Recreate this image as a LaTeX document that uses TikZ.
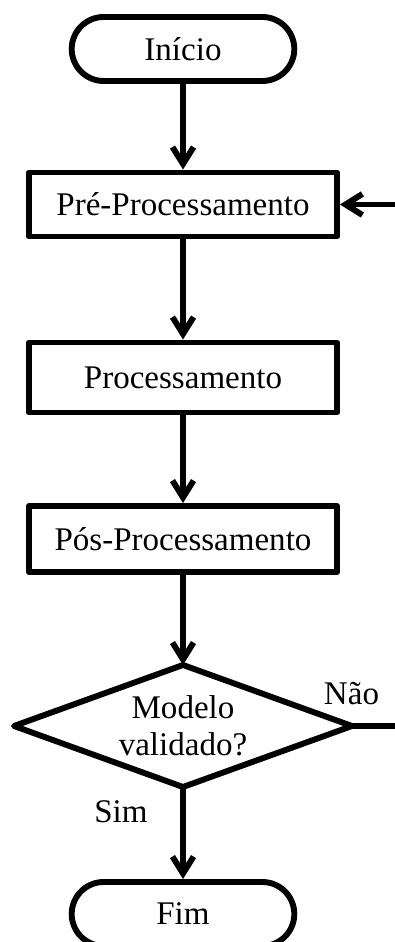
\documentclass[tikz,border=0pt]{standalone}
\usepackage{fontspec}
\setmainfont{Liberation Serif}
\usetikzlibrary{arrows.meta,shapes.geometric,shapes.misc}
\tikzstyle{every node}=[font=\fontsize{23.5}{26}\selectfont]
\tikzstyle{every path}=[line width=4.2pt,line join=round]
\tikzstyle{terminal}=[draw,rounded rectangle,minimum width=5.8cm,minimum height=1.6cm]
\tikzstyle{stepbox}=[draw,rectangle,minimum width=7.7cm]
\tikzstyle{decision}=[draw,diamond,aspect=2.77,minimum width=8.45cm,minimum height=3.05cm,inner sep=0pt,outer sep=0pt,align=center]
\tikzstyle{flow}=[-{Straight Barb[length=12pt,width=15pt]}]
\begin{document}
\begin{tikzpicture}
  \useasboundingbox (0,0) rectangle (9.875,23.55);
  \node[terminal] (inicio) at (4.575,22.325) {Início};
  \node[stepbox,minimum height=1.6cm] (pre) at (4.575,18.4375) {Pré-Processamento};
  \node[stepbox,minimum height=1.75cm] (proc) at (4.575,14.1125) {Processamento};
  \node[stepbox,minimum height=1.65cm] (pos) at (4.575,10.075) {Pós-Processamento};
  \node[decision] (valid) at (4.575,5.4) {Modelo\\validado?};
  \node[terminal] (fim) at (4.575,0.7) {Fim};
  \node (nao) at (8.7875,6.2) {Não};
  \node (sim) at (3.025,3.2625) {Sim};
  \coordinate (volta) at (9.96,5.4);
  % fluxo principal
  \draw[flow] (inicio) -- (pre);
  \draw[flow] (pre) -- (proc);
  \draw[flow] (proc) -- (pos);
  \draw[flow] (pos) -- (valid.north);
  \draw[flow] (valid.south) -- (fim);
  % retorno
  \draw[flow] (valid.east) -- (volta) |- (pre.east);
\end{tikzpicture}
\end{document}
